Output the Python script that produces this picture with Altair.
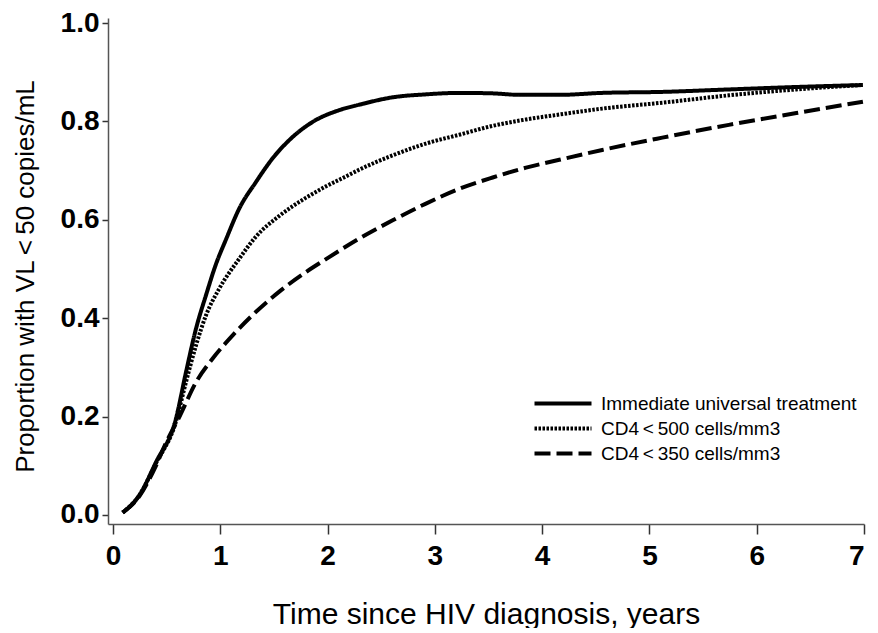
import altair as alt
import pandas as pd

# Immediate universal treatment
imm_t = [0.09, 0.245, 0.40, 0.587, 0.68, 0.774, 0.867, 0.96, 1.053, 1.177, 1.333, 1.488,
         1.643, 1.861, 2.11, 2.296, 2.607, 2.917, 3.228, 3.539, 3.79, 4.16, 4.56, 5.12,
         5.74, 6.37, 6.99]
imm_p = [0.005, 0.04, 0.107, 0.196, 0.29, 0.379, 0.447, 0.51, 0.56, 0.623, 0.677, 0.725,
         0.762, 0.799, 0.823, 0.834, 0.849, 0.855, 0.858, 0.857, 0.854, 0.854, 0.858, 0.860,
         0.865, 0.870, 0.874]

# CD4<500 cells/mm3
c500_t = [0.09, 0.245, 0.40, 0.587, 0.68, 0.774, 0.867, 0.99, 1.177, 1.333, 1.55, 1.80,
          1.985, 2.17, 2.296, 2.607, 2.917, 3.228, 3.539, 3.85, 4.16, 4.56, 5.12, 5.74,
          6.37, 6.99]
c500_p = [0.005, 0.04, 0.105, 0.19, 0.27, 0.345, 0.406, 0.46, 0.521, 0.566, 0.608, 0.645,
          0.668, 0.688, 0.702, 0.731, 0.755, 0.773, 0.791, 0.804, 0.814, 0.826, 0.838, 0.853,
          0.865, 0.874]

# CD4<350 cells/mm3
c350_t = [0.09, 0.245, 0.40, 0.49, 0.62, 0.774, 0.929, 1.115, 1.333, 1.55, 1.80, 1.985,
          2.296, 2.607, 2.917, 3.228, 3.539, 3.85, 4.16, 4.56, 5.12, 5.74, 6.37, 6.99]
c350_p = [0.005, 0.038, 0.10, 0.145, 0.20, 0.27, 0.318, 0.365, 0.413, 0.454, 0.494, 0.52,
          0.562, 0.599, 0.633, 0.663, 0.686, 0.706, 0.722, 0.742, 0.767, 0.793, 0.817, 0.840]

names = ["Immediate universal treatment", "CD4\u2009<\u2009500  cells/mm3", "CD4\u2009<\u2009350  cells/mm3"]
x_ticks = [0, 1, 2, 3, 4, 5, 6, 7]
y_ticks = [0.0, 0.2, 0.4, 0.6, 0.8, 1.0]

rows = []
for name, ts, ps in zip(names, [imm_t, c500_t, c350_t], [imm_p, c500_p, c350_p]):
    for t, p in zip(ts, ps):
        rows.append({"Strategy": name, "t": t, "p": p})
df = pd.DataFrame(rows)

FONT = "Liberation Sans"

chart = alt.Chart(df).mark_line(strokeWidth=4, interpolate="monotone", color="black").encode(
    x=alt.X("t:Q",
            scale=alt.Scale(domain=[-0.0466, 7.0], nice=False, zero=False),
            axis=alt.Axis(values=x_ticks, format="d", title="Time since HIV diagnosis, years",
                          grid=False, tickSize=10, labelPadding=8, titlePadding=29,
                          titleFontSize=30)),
    y=alt.Y("p:Q",
            scale=alt.Scale(domain=[-0.0183, 1.0102], nice=False, zero=False),
            axis=alt.Axis(values=y_ticks, format=".1f", title="Proportion with VL\u2009<\u200950 copies/mL",
                          grid=False, tickSize=6, labelPadding=3, titlePadding=22,
                          titleFontSize=26, titleX=-70, titleY=258)),
    strokeDash=alt.StrokeDash("Strategy:N",
                              scale=alt.Scale(domain=names, range=[[1, 0], [2.5, 1.5], [16, 6]]),
                              legend=alt.Legend(title=None, orient="none", legendX=445.5, legendY=376,
                                                symbolType="M-4.75,0H4.75", symbolSize=144,
                                                symbolStrokeWidth=4, symbolStrokeColor="black",
                                                labelFontSize=19, labelFont=FONT, labelColor="black",
                                                labelOffset=28.5, rowPadding=5, labelLimit=400,
                                                padding=0)),
).properties(
    width=756, height=506,
    autosize=alt.AutoSizeParams(type="none"),
    padding={"left": 100, "top": 10, "right": 6, "bottom": 104},
).configure_view(stroke=None).configure_axis(
    domainColor="#555555", domainWidth=1.5, tickColor="#333333", tickWidth=1.5,
    labelFont=FONT, labelFontSize=28, labelFontWeight="bold", labelColor="black",
    titleFont=FONT, titleFontWeight="normal", titleColor="black",
)

chart.save("out.html", embed_options={"renderer": "svg", "actions": False})
